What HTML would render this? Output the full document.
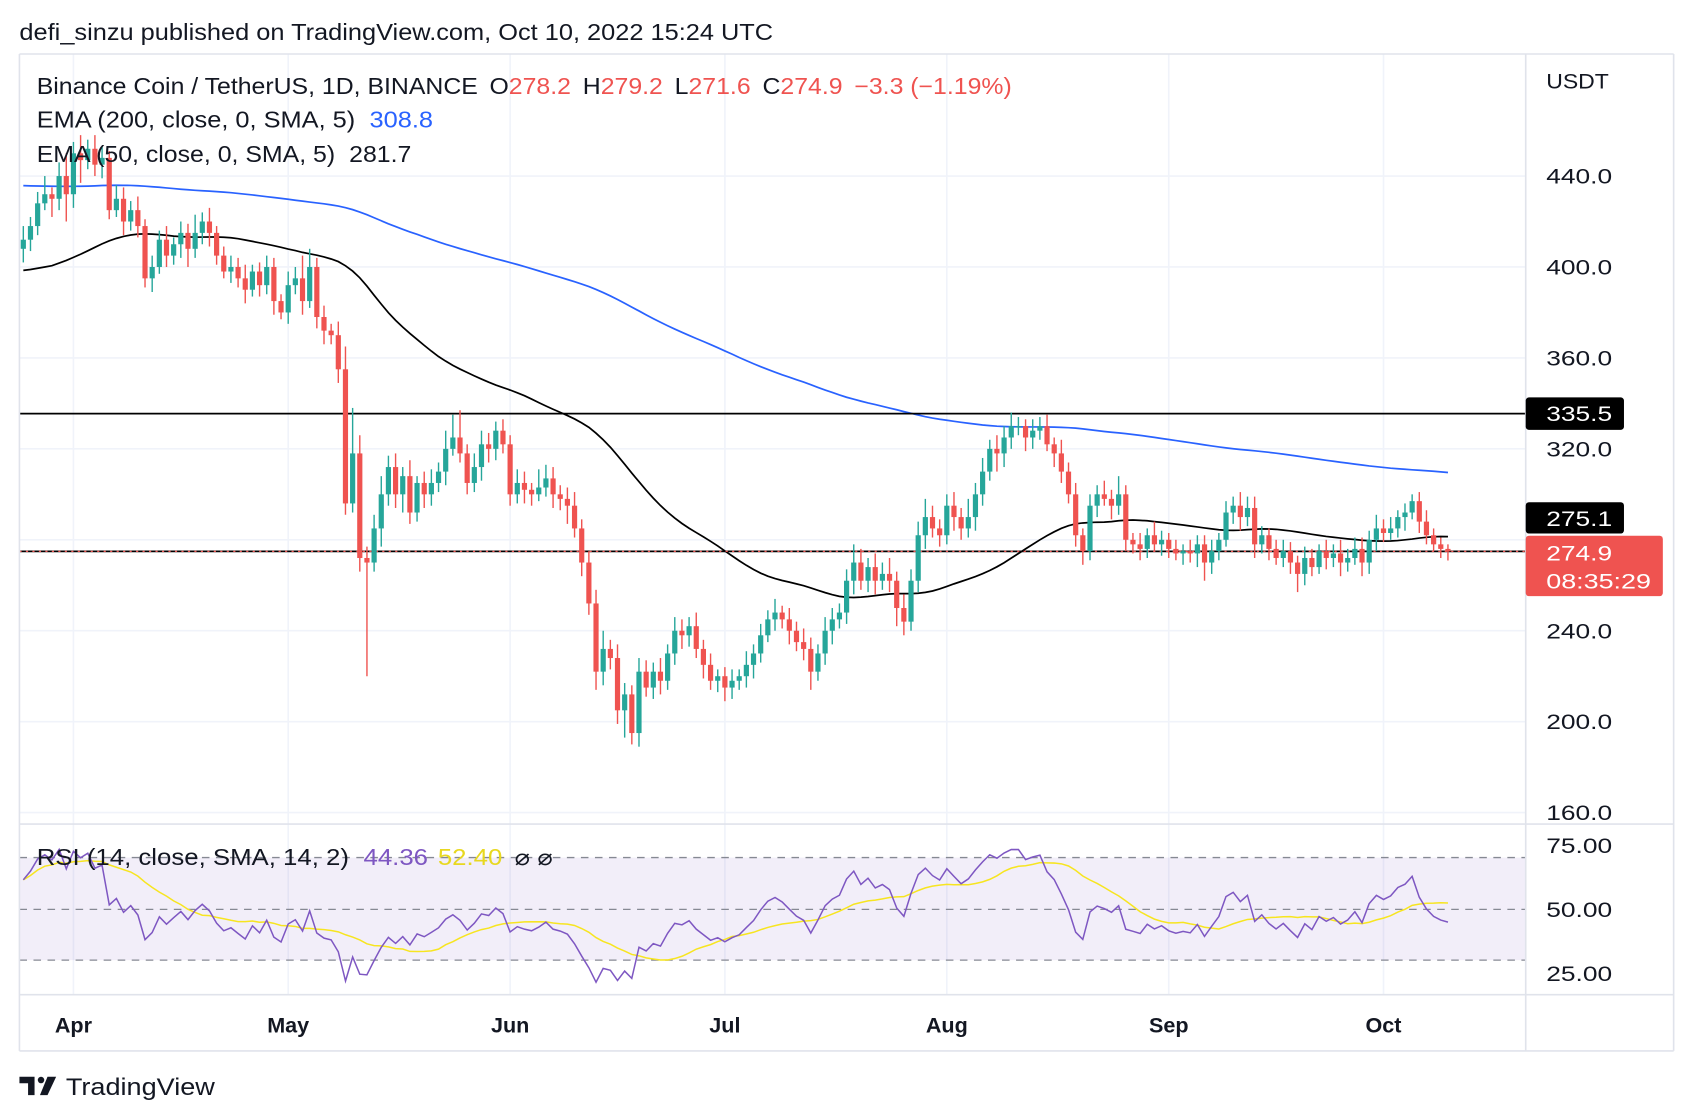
<!DOCTYPE html>
<html><head><meta charset="utf-8">
<style>
html,body{margin:0;padding:0;background:#fff;}
svg{display:block;font-family:"Liberation Sans",Arial,sans-serif;}
</style></head>
<body>
<svg id="chart" width="1692" height="1120" viewBox="0 0 1567 1037" preserveAspectRatio="none" xmlns="http://www.w3.org/2000/svg">
<rect width="1567" height="1037" fill="#fff"/>
<text x="18" y="37" font-size="21" fill="#131722" textLength="698" lengthAdjust="spacingAndGlyphs">defi_sinzu published on TradingView.com, Oct 10, 2022 15:24 UTC</text>
<g id="grid"></g>
<rect x="18" y="794" width="1395" height="95" fill="#7e57c2" fill-opacity="0.1"/>
<g id="rsiLines"></g>
<g id="marks"></g>
<g id="frame"></g>
<g id="labels"></g>
</svg>
<script>
// ---- data ----
const monthLabels = ["Apr","May","Jun","Jul","Aug","Sep","Oct"];
const monthStartIdx = [7,37,68,98,129,160,190];
const priceTicks = [440,400,360,320,240,200,160];
const rsiTicks = [75,50,25];
const closes = [
412,418,428,432,430,440,432,
450,447,452,445,448,425,430,420,425,418,395,400,412,405,410,415,408,415,420,415,405,398,400,395,390,398,392,400,385,380,
392,395,385,400,378,372,370,355,296,318,272,270,285,300,312,300,308,292,305,300,305,310,320,325,318,305,312,322,320,328,322,
300,305,302,300,303,307,300,298,295,285,270,252,222,232,228,205,212,195,222,215,222,218,230,240,238,242,232,225,218,220,
215,218,220,225,230,238,245,248,245,240,235,232,222,230,240,245,248,262,270,262,268,262,265,262,250,244,262,282,290,285,282,
295,290,285,290,300,310,320,318,325,330,330,325,328,330,322,318,310,300,282,275,295,300,298,295,300,280,278,276,282,278,280,
276,274,275,274,278,270,275,280,292,295,290,294,278,282,276,272,275,270,265,272,268,275,272,274,270,272,276,270,280,285,
283,285,290,292,297,288,282,278,276,274.9];
const wickUp = [
6,4,5,8,3,6,10,
5,8,4,6,5,3,6,5,4,6,3,5,4,6,3,5,4,8,4,6,3,4,5,4,6,3,4,5,4,3,
6,5,10,8,4,5,3,6,10,20,8,5,6,8,5,6,4,7,3,5,6,4,8,10,12,4,6,6,5,4,5,
4,6,5,3,8,6,5,4,5,6,4,5,6,8,4,6,5,4,6,5,4,6,4,6,5,4,6,4,5,3,
4,5,3,6,4,5,4,6,3,5,4,6,5,4,6,5,4,5,8,6,4,6,5,7,4,6,5,6,8,5,4,
5,6,4,8,5,6,4,6,5,6,4,3,5,4,5,3,6,4,5,3,5,4,6,4,8,4,3,5,3,6,4,
3,4,3,5,4,4,5,3,5,4,6,5,5,4,3,4,5,4,3,5,4,3,5,4,6,4,5,5,4,6,
4,5,3,4,3,4,5,3,3,2];
const wickDn = [
6,5,4,3,8,5,12,
6,10,4,5,6,4,3,6,4,5,4,6,3,5,4,6,8,4,5,6,4,3,5,4,6,3,5,4,6,3,
5,4,6,3,5,6,4,6,5,4,6,50,4,8,5,6,8,5,4,6,5,4,6,3,4,5,4,6,6,5,4,
5,4,6,5,3,4,6,5,8,4,6,5,8,6,5,6,12,5,6,4,5,6,4,5,6,5,4,6,4,5,
6,5,4,5,6,4,3,5,4,6,4,5,8,4,5,6,4,5,6,4,5,6,4,5,8,6,4,5,6,4,5,
4,6,5,4,6,5,4,8,6,5,4,6,5,4,3,6,5,4,5,6,4,5,3,6,4,5,4,5,4,3,5,
4,3,5,4,6,8,5,4,3,5,6,4,6,4,5,3,4,5,8,5,4,3,5,4,6,4,3,6,5,5,
4,3,4,6,3,5,4,3,4,4];
const levelLine = 335.5;
const lastClose = 274.9;

// ---- axes ----
const X0 = 21.6, DX = 6.63;
function xAt(i){ return X0 + i*DX; }
function yP(p){ return 163 + (440 - p)*2.105; }
function yR(v){ return 842 - (v - 50)*2.375; }
const NS = "http://www.w3.org/2000/svg";
function mk(tag, attrs, parent){
  const e = document.createElementNS(NS, tag);
  for (const k in attrs) e.setAttribute(k, attrs[k]);
  parent.appendChild(e); return e;
}
const grid = document.getElementById('grid');
const marks = document.getElementById('marks');
const frame = document.getElementById('frame');
const labels = document.getElementById('labels');
const rsiLines = document.getElementById('rsiLines');

[...priceTicks, 280].forEach(p=>{
  const l = mk('line',{x1:18,x2:1413,y1:yP(p),y2:yP(p),stroke:'#f0f3fa','stroke-width':1.5},grid);
  
  
});
monthStartIdx.forEach(i=>{
  const l = mk('line',{x1:xAt(i),x2:xAt(i),y1:50,y2:921,stroke:'#f0f3fa','stroke-width':1.5},grid);
  
  
});
[794,842,889].forEach(y=>{
  const l = mk('line',{x1:18,x2:1413,y1:y,y2:y,stroke:'#868993','stroke-width':1.2,'stroke-dasharray':'7 6'},rsiLines);
  
  
});

function ema(arr, n, seed){
  const a = 2/(n+1); let v = seed; const out=[];
  arr.forEach(c=>{ v = v + a*(c - v); out.push(v); });
  return out;
}
function smooth(arr, n){
  return arr.map((_,i)=>{ let s=0,c=0; for(let j=Math.max(0,i-n+1);j<=i;j++){s+=arr[j];c++;} return s/c; });
}
const ema200 = smooth(ema(closes,200,436),5);
const ema50 = smooth(ema(closes,50,398),5);
function pathFrom(vals, yf){ return vals.map((v,i)=>(i?'L':'M')+xAt(i).toFixed(1)+' '+yf(v).toFixed(1)).join(' '); }
const e200 = mk('path',{d:pathFrom(ema200,yP),fill:'none',stroke:'#2962ff','stroke-width':1.6},marks);


const e50 = mk('path',{d:pathFrom(ema50,yP),fill:'none',stroke:'#000','stroke-width':1.6},marks);



const lv = mk('line',{x1:18,x2:1413,y1:yP(levelLine),y2:yP(levelLine),stroke:'#000','stroke-width':1.6},marks);


const sl = mk('line',{x1:18,x2:1413,y1:yP(lastClose),y2:yP(lastClose),stroke:'#000','stroke-width':1.6},marks);


const pl = mk('line',{x1:18,x2:1413,y1:yP(lastClose),y2:yP(lastClose),stroke:'#ef5350','stroke-width':1.2,'stroke-dasharray':'2 4'},marks);



closes.forEach((c,i)=>{
  const o = i ? closes[i-1] : c - 4;
  const up = c >= o;
  const col = up ? '#26a69a' : '#ef5350';
  const hi = Math.max(o,c) + wickUp[i], lo = Math.min(o,c) - wickDn[i];
  const g = mk('g',{},marks);
  
  
  mk('line',{x1:xAt(i),x2:xAt(i),y1:yP(hi),y2:yP(lo),stroke:col,'stroke-width':1.3},g);
  const yt = yP(Math.max(o,c)), yb = yP(Math.min(o,c));
  mk('rect',{x:xAt(i)-2.4,y:yt,width:4.8,height:Math.max(1.3,yb-yt),fill:col},g);
});

const rsi=[]; let ag=3.2, al=2.0;
closes.forEach((c,i)=>{
  const d = i ? c - closes[i-1] : 0;
  ag = (ag*13 + Math.max(d,0))/14; al = (al*13 + Math.max(-d,0))/14;
  rsi.push(100 - 100/(1+ag/al));
});
const rsiSma = rsi.map((_,i)=>{ let s=0,c=0; for(let j=Math.max(0,i-13);j<=i;j++){s+=rsi[j];c++;} return s/c; });
const rs = mk('path',{d:pathFrom(rsiSma,yR),fill:'none',stroke:'#f7e520','stroke-width':1.4},marks);


const rl = mk('path',{d:pathFrom(rsi,yR),fill:'none',stroke:'#7e57c2','stroke-width':1.4},marks);



[[18,50,1550,50],[18,973,1550,973],[18,50,18,973],[1550,50,1550,973],[1413,50,1413,973],[18,763,1550,763],[18,921,1550,921]].forEach(a=>{
  const l = mk('line',{x1:a[0],y1:a[1],x2:a[2],y2:a[3],stroke:'#e0e3eb','stroke-width':1.5},frame);
  
  
});

function txt(s,x,y,attrs,name,inter){
  const t = mk('text',Object.assign({x:x,y:y,'font-size':20,fill:'#131722'},attrs||{}),labels);
  t.textContent = s;
  
  
  return t;
}
const fit = (w)=>({textLength:w,lengthAdjust:'spacingAndGlyphs'});
txt('USDT',1432,82,fit(58),'price-axis-unit',false);
priceTicks.forEach(p=>{ txt(p.toFixed(1),1432,yP(p)+7,fit(61),'price-tick-label',false); });
rsiTicks.forEach(v=>{ txt(v.toFixed(2),1432,yR(v)+7,fit(61),'rsi-tick-label',false); });
monthLabels.forEach((m,k)=>{ txt(m,xAt(monthStartIdx[k]),956,{'text-anchor':'middle','font-weight':'bold','font-size':20},'time-tick-label',false); });

let r = mk('rect',{x:1413,y:yP(levelLine)-15,width:91,height:30,rx:3,fill:'#000'},labels);


txt(levelLine.toFixed(1),1432,yP(levelLine)+7,Object.assign({fill:'#fff'},fit(61)),'resistance-price-text',false);
r = mk('rect',{x:1413,y:465,width:91,height:29,rx:3,fill:'#000'},labels);


txt('275.1',1432,487,Object.assign({fill:'#fff'},fit(61)),'ema-price-text',false);
r = mk('rect',{x:1413,y:496,width:127,height:56,rx:3,fill:'#ef5350'},labels);


txt(lastClose.toFixed(1),1432,519,Object.assign({fill:'#fff'},fit(61)),'last-price-text',false);
txt('08:35:29',1432,545,Object.assign({fill:'#fff'},fit(97)),'countdown-text',false);

let t = mk('text',{x:34,y:87,'font-size':21,fill:'#131722',textLength:903,lengthAdjust:'spacingAndGlyphs'},labels);


t.innerHTML = 'Binance Coin / TetherUS, 1D, BINANCE <tspan dx="4">O</tspan><tspan fill="#ef5350">278.2</tspan><tspan dx="10">H</tspan><tspan fill="#ef5350">279.2</tspan><tspan dx="10">L</tspan><tspan fill="#ef5350">271.6</tspan><tspan dx="10">C</tspan><tspan fill="#ef5350">274.9</tspan><tspan dx="10" fill="#ef5350">−3.3 (−1.19%)</tspan>';
t = mk('text',{x:34,y:118,'font-size':21,fill:'#131722',textLength:367,lengthAdjust:'spacingAndGlyphs'},labels);


t.innerHTML = 'EMA (200, close, 0, SMA, 5) <tspan dx="6" fill="#2962ff">308.8</tspan>';
t = mk('text',{x:34,y:150,'font-size':21,fill:'#131722',textLength:347,lengthAdjust:'spacingAndGlyphs'},labels);


t.innerHTML = 'EMA (50, close, 0, SMA, 5) <tspan dx="6">281.7</tspan>';
t = mk('text',{x:34,y:801,'font-size':21,fill:'#131722',textLength:478,lengthAdjust:'spacingAndGlyphs'},labels);


t.innerHTML = 'RSI (14, close, SMA, 14, 2) <tspan dx="6" fill="#7e57c2">44.36</tspan><tspan dx="8" fill="#e8d820">52.40</tspan><tspan dx="10">⌀ ⌀</tspan>';

const lg = mk('g',{},labels);


mk('path',{d:'M18 997 H32 V1014 H26 V1003 H18 Z',fill:'#131722'},lg);
mk('circle',{cx:38,cy:1000,r:3,fill:'#131722'},lg);
mk('path',{d:'M44 997 H52 L44 1014 H37 Z',fill:'#131722'},lg);
const lt = mk('text',{x:61,y:1014,'font-size':22,fill:'#131722',textLength:138,lengthAdjust:'spacingAndGlyphs'},lg);
lt.textContent = 'TradingView';
</script>
</body></html>
